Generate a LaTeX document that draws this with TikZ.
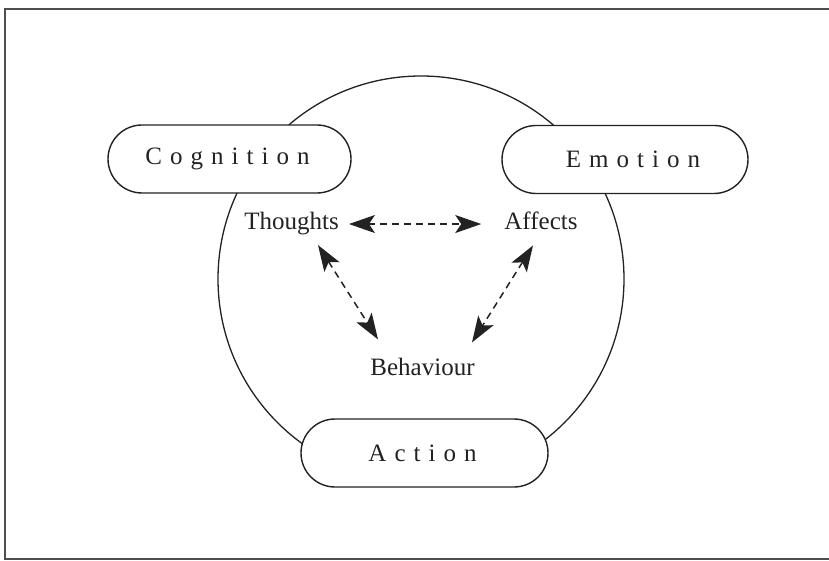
\documentclass[tikz,border=0pt]{standalone}
\usepackage{fontspec}
\setmainfont{Liberation Serif}
\newfontfamily\spacedfont[LetterSpace=32]{Liberation Serif}
\usetikzlibrary{arrows.meta,shapes.misc}
% letter-spaced caption for the three outer boxes, balanced for centring
\newcommand\spacedword[1]{{\spacedfont #1\kern4pt}}
\definecolor{ink}{HTML}{222222}
\begin{document}
\begin{tikzpicture}[x=1pt,y=1pt,
  ink/.style={draw=ink,text=ink},
  outerbox/.style={ink,rounded rectangle,fill=white,line width=1.4pt,
    minimum height=68pt,inner sep=0pt,font=\fontsize{25}{30}\selectfont},
  word/.style={text=ink,inner sep=0pt,anchor=base,font=\fontsize{25}{30}\selectfont},
  link/.style={draw=ink,line width=1.5pt,dash pattern=on 7pt off 5pt,
    {Stealth[length=26pt,width=18pt,inset=6pt]}-{Stealth[length=26pt,width=18pt,inset=6pt]}}]
  \useasboundingbox (0,0) rectangle (829,560);

  % frame (its right side runs past the page edge)
  \draw[draw=ink!80,line width=1.8pt] (840,551) -- (5,551) -- (5,1) -- (840,1);

  % circle behind the three boxes
  \draw[ink,line width=1.3pt] (421,281) circle (203);

  % outer boxes
  \node[outerbox,minimum width=243pt] (cog) at (229.5,401) {\spacedword{Cognition}};
  \node[outerbox,minimum width=246pt] (emo) at (625,400.5) {\hspace*{20pt}\spacedword{Emotion}};
  \node[outerbox,minimum width=247pt] (act) at (424.5,107) {\spacedword{Action}};

  % inner labels
  \node[word] (th)  at (291.5,330) {Thoughts};
  \node[word] (af)  at (541,330)   {Affects};
  \node[word] (beh) at (422.5,185) {Behaviour};

  % dashed two-way links
  \draw[link,shorten <=10pt,shorten >=23pt] (th.east) -- (th.east -| af.west);
  \draw[link] ([xshift=26.5pt,yshift=-9.5pt]th.south) -- ([xshift=-44.5pt,yshift=18pt]beh.north);
  \draw[link] ([xshift=-8pt,yshift=-15pt]af.south) -- ([xshift=49.5pt,yshift=15pt]beh.north);
\end{tikzpicture}
\end{document}
